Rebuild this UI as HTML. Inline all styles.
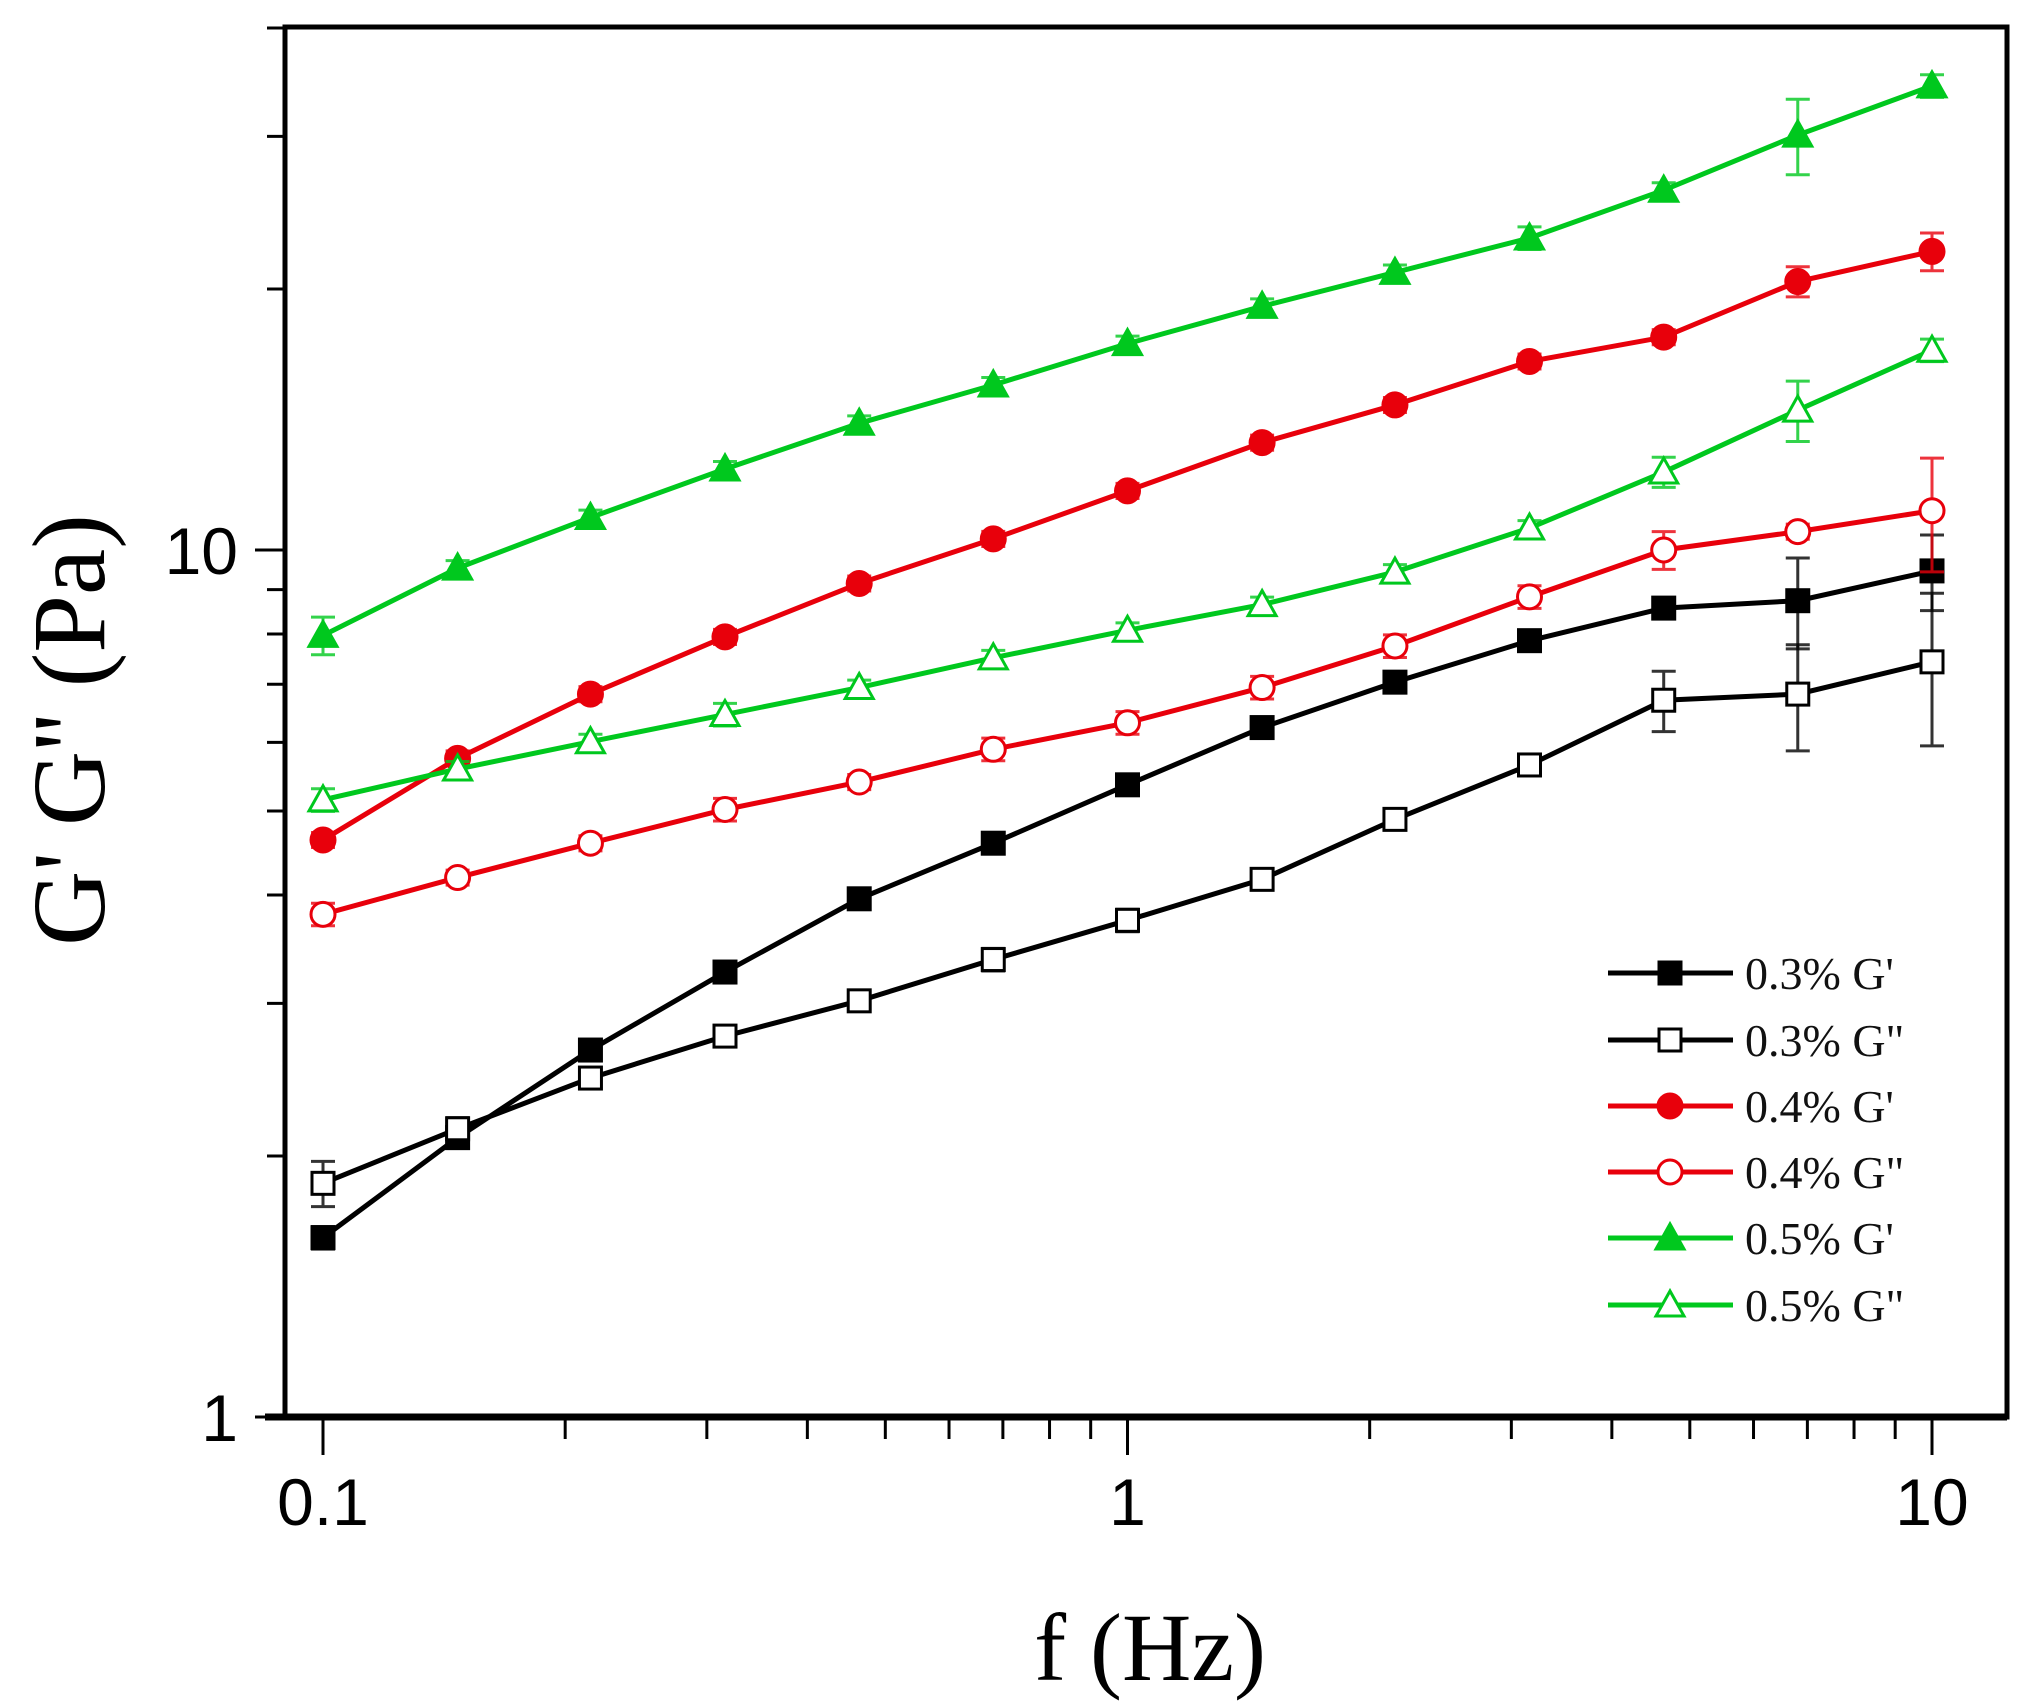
<!DOCTYPE html>
<html><head><meta charset="utf-8"><style>
html,body{margin:0;padding:0;background:#fff;}
svg{display:block;}
</style></head><body>
<svg id="chart" width="2033" height="1706" viewBox="0 0 2033 1706" xmlns="http://www.w3.org/2000/svg">
<rect width="2033" height="1706" fill="#fff"/>
<g id="axes"></g>
<g id="series"></g>
<g id="legend"></g>
<text x="1150" y="1680" text-anchor="middle" font-family="Liberation Serif, serif" font-size="96">f (Hz)</text>
<text transform="translate(104,730) rotate(-90)" text-anchor="middle" font-family="Liberation Serif, serif" font-size="104">G' G'' (Pa)</text>
</svg>
<script>
const freqs = [0.1,0.147,0.215,0.316,0.464,0.681,1,1.47,2.15,3.16,4.64,6.81,10];
const g03p = [1.61,2.10,2.65,3.26,3.96,4.59,5.36,6.24,7.04,7.86,8.57,8.74,9.46];
const g03pp = [1.86,2.15,2.46,2.75,3.02,3.37,3.74,4.17,4.89,5.65,6.71,6.82,7.43];
const g04p = [4.63,5.75,6.82,7.94,9.15,10.3,11.7,13.3,14.7,16.5,17.6,20.4,22.1];
const g04pp = [3.80,4.19,4.59,5.02,5.40,5.89,6.32,6.94,7.75,8.83,10.0,10.5,11.1];
const g05p = [7.97,9.53,10.9,12.4,14.0,15.5,17.3,19.1,20.9,22.9,26.0,30.1,34.3];
const g05pp = [5.15,5.59,6.01,6.46,6.94,7.51,8.08,8.65,9.43,10.6,12.3,14.5,17.0];
const err03p = [0.03,0.02,0.02,0.02,0.02,0.02,0.02,0.02,0.02,0.02,0.02,0.12,0.1];
const err03pp = [0.06,0.03,0.02,0.02,0.02,0.03,0.03,0.02,0.02,0.02,0.08,0.14,0.2];
const err04p = [0.02,0.02,0.02,0.02,0.02,0.02,0.02,0.02,0.02,0.02,0.02,0.04,0.05];
const err04pp = [0.03,0.02,0.02,0.03,0.02,0.03,0.03,0.03,0.03,0.03,0.05,0.02,0.15];
const err05p = [0.05,0.02,0.02,0.02,0.02,0.02,0.02,0.02,0.02,0.03,0.02,0.1,0.03];
const err05pp = [0.03,0.02,0.02,0.03,0.02,0.02,0.02,0.02,0.02,0.02,0.04,0.08,0.03];
const xTicks = [0.1,1,10];
const xTickLabels = ["0.1","1","10"];
const yTicks = [1,10];
const yTickLabels = ["1","10"];

const L=285,R=2007,T=27,B=1417;
const X0=323, XD=804.5;
const Y1=1417, YD=867;
function xs(v){return X0+Math.log10(v/0.1)*XD;}
function ys(v){return Y1-Math.log10(v)*YD;}
const NS="http://www.w3.org/2000/svg";
function mk(tag,attrs,parent){const e=document.createElementNS(NS,tag);for(const k in attrs)e.setAttribute(k,attrs[k]);parent.appendChild(e);return e;}

const axes=document.getElementById('axes');
let e;
e=mk('rect',{x:L,y:T,width:R-L,height:B-T,fill:'none',stroke:'#000','stroke-width':5},axes);


e=mk('line',{x1:L-20,y1:B,x2:R,y2:B,stroke:'#000','stroke-width':7},axes);


for(let d=0.1;d<=10;d*=10){for(let m=1;m<10;m++){const v=d*m;if(v>12.5)break;const x=xs(v);const major=(m===1);
 e=mk('line',{x1:x,y1:B,x2:x,y2:B+(major?38:22),stroke:'#000','stroke-width':3},axes);
 
 }}
for(let d=1;d<=10;d*=10){for(let m=1;m<10;m++){const v=d*m;if(v>40)break;const y=ys(v);const major=(m===1);
 e=mk('line',{x1:L-(major?30:18),y1:y,x2:L,y2:y,stroke:'#000','stroke-width':3},axes);
 
 }}
xTicks.forEach((v,i)=>{e=mk('text',{x:xs(v),y:1525,'text-anchor':'middle','font-family':'Liberation Sans, sans-serif','font-size':66},axes);e.textContent=xTickLabels[i];
 
 });
yTicks.forEach((v,i)=>{e=mk('text',{x:238,y:ys(v)+24,'text-anchor':'end','font-family':'Liberation Sans, sans-serif','font-size':66},axes);e.textContent=yTickLabels[i];
 
 });

const seriesDefs=[
 {name:'0.3% G\'',vals:g03p,err:err03p,color:'#000',shape:'square',fill:true},
 {name:'0.3% G"',vals:g03pp,err:err03pp,color:'#000',shape:'square',fill:false},
 {name:'0.4% G\'',vals:g04p,err:err04p,color:'#e8000b',shape:'circle',fill:true},
 {name:'0.4% G"',vals:g04pp,err:err04pp,color:'#e8000b',shape:'circle',fill:false},
 {name:'0.5% G\'',vals:g05p,err:err05p,color:'#00c81e',shape:'tri',fill:true},
 {name:'0.5% G"',vals:g05pp,err:err05pp,color:'#00c81e',shape:'tri',fill:false}];
function marker(g,shape,x,y,color,fill,s){
 const f=fill?color:'#fff',sw=3;let m;
 if(shape==='square')m=mk('rect',{x:x-s/2,y:y-s/2,width:s,height:s,fill:f,stroke:color,'stroke-width':sw},g);
 else if(shape==='circle')m=mk('circle',{cx:x,cy:y,r:s/2+1,fill:f,stroke:color,'stroke-width':sw},g);
 else m=mk('polygon',{points:`${x},${y-s/2-3} ${x-s/2-3},${y+s/2} ${x+s/2+3},${y+s/2}`,fill:f,stroke:color,'stroke-width':sw},g);
 return m;}
const sg=document.getElementById('series');
seriesDefs.forEach(sd=>{
 const g=mk('g',{},sg);
 
 
 const pts=freqs.map((f,i)=>xs(f)+','+ys(sd.vals[i])).join(' ');
 const pl=mk('polyline',{points:pts,fill:'none',stroke:sd.color,'stroke-width':5},g);
 
 
 freqs.forEach((f,i)=>{
  const x=xs(f),v=sd.vals[i],r=sd.err[i];
  const yh=ys(v*(1+r)),yl=ys(v*(1-r));
  const eb=mk('path',{d:`M${x},${yh}V${yl}M${x-12},${yh}H${x+12}M${x-12},${yl}H${x+12}`,stroke:sd.color,'stroke-width':3,fill:'none',opacity:0.8},g);
  
  
  const m=marker(g,sd.shape,x,ys(v),sd.color,sd.fill,22);
  
  
 });
});
const lg=document.getElementById('legend');
const rowsY=[973,1040,1106,1172,1238,1305];
seriesDefs.forEach((sd,i)=>{
 const y=rowsY[i];
 const g=mk('g',{},lg);
 
 
 mk('line',{x1:1608,y1:y,x2:1733,y2:y,stroke:sd.color,'stroke-width':5},g);
 marker(g,sd.shape,1670,y,sd.color,sd.fill,22);
 const t=mk('text',{x:1745,y:y+16,'font-family':'Liberation Serif, serif','font-size':46,fill:'#111'},g);
 t.textContent=sd.name;
});
</script>
</body></html>
